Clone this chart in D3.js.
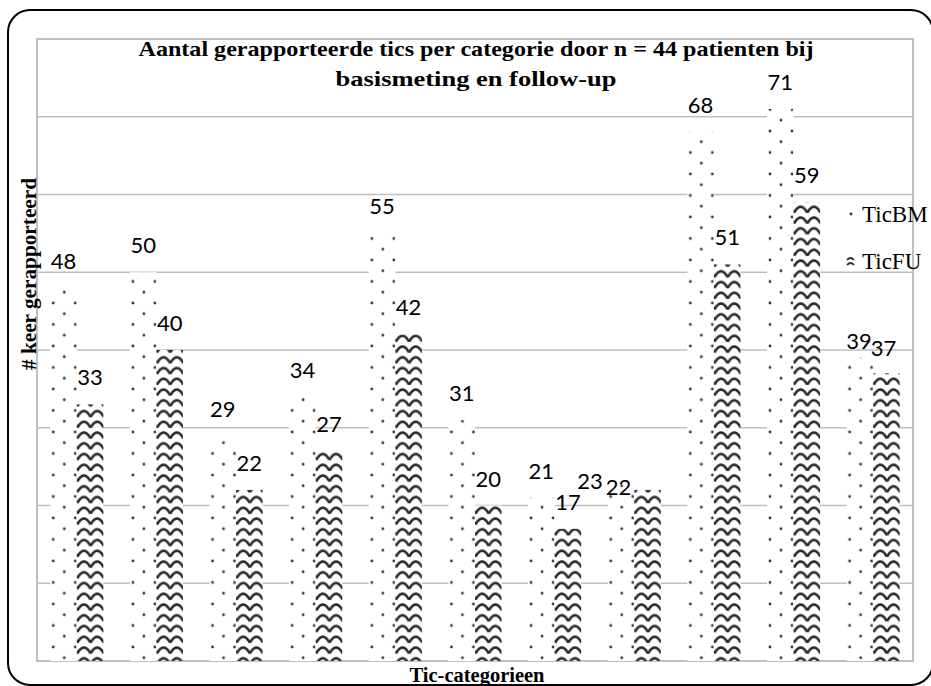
<!DOCTYPE html>
<html><head><meta charset="utf-8">
<script src="https://cdn.jsdelivr.net/npm/d3@7"></script>
<style>
html,body{margin:0;padding:0;background:#fff;}
svg{display:block;}
</style></head>
<body>
<svg id="chart" width="931" height="686"></svg>
<script>
const categories = ["C1","C2","C3","C4","C5","C6","C7","C8","C9","C10","C11"];
const seriesNames = ["TicBM","TicFU"];
const ticBM = [48,50,29,34,55,31,21,23,68,71,39];
const ticFU = [33,40,22,27,42,20,17,22,51,59,37];
const yTicks = [0,10,20,30,40,50,60,70,80];
const titleLines = ["Aantal gerapporteerde tics per categorie door n = 44 patienten bij","basismeting en follow-up"];
const yTitle = "# keer gerapporteerd";
const xTitle = "Tic-categorieen";

// manual label nudges (layout only): key "catIndex-series" -> [dx, dy]
const labelNudge = {"7-TicBM":[-31,26], "7-TicFU":[-29,24], "10-TicBM":[-1,10], "10-TicFU":[-3,2]};

const SERIF = "'Times New Roman', 'Liberation Serif', Tinos, serif";
const svg = d3.select("#chart");
const plot = {left:37, top:39, right:913, bottom:661};

// outer frame
svg.append("rect").attr("x",8).attr("y",10).attr("width",925).attr("height",675)
  .attr("rx",22).attr("ry",22).attr("fill","#fff").attr("stroke","#000").attr("stroke-width",2);

// patterns
const defs = svg.append("defs");
const pDot = defs.append("pattern").attr("id","pDots").attr("patternUnits","userSpaceOnUse")
  .attr("width",22).attr("height",21.5).attr("x",3).attr("y",2);
pDot.append("rect").attr("width",22).attr("height",21.5).attr("fill","#fff");
[[0,0],[22,0],[0,21.5],[22,21.5],[11,10.75]].forEach(([cx,cy])=>
  pDot.append("circle").attr("cx",cx).attr("cy",cy).attr("r",1.4).attr("fill","#333"));

const ww = 13.27, wh = 10.75;
const pWave = defs.append("pattern").attr("id","pWave").attr("patternUnits","userSpaceOnUse")
  .attr("width",ww).attr("height",wh).attr("x",0.5).attr("y",0);
pWave.append("rect").attr("width",ww).attr("height",wh).attr("fill","#fff");
pWave.append("path").attr("d",`M0,8.5 Q${ww/2},-3.5 ${ww},8.5`)
  .attr("fill","none").attr("stroke","#2a2a2a").attr("stroke-width",2.6);

const x0 = d3.scaleBand().domain(categories).range([plot.left, plot.right]);
const bw = x0.bandwidth()/3;
const x1 = d3.scaleBand().domain(seriesNames).range([0, 2*bw]);
const y = d3.scaleLinear().domain([0,80]).range([plot.bottom, plot.top]);

// gridlines
svg.append("g").selectAll("line").data(yTicks).join("line")
  .attr("x1",plot.left).attr("x2",plot.right)
  .attr("y1",d=>y(d)).attr("y2",d=>y(d))
  .attr("stroke","#bfbfbf").attr("stroke-width",1.5);

// plot border
svg.append("rect").attr("x",plot.left).attr("y",plot.top)
  .attr("width",plot.right-plot.left).attr("height",plot.bottom-plot.top)
  .attr("fill","none").attr("stroke","#bfbfbf").attr("stroke-width",2);

const data = categories.map((c,i)=>({c, i, vals:[{i, s:"TicBM",v:ticBM[i]},{i, s:"TicFU",v:ticFU[i]}]}));
const fills = {TicBM:"url(#pDots)", TicFU:"url(#pWave)"};

const groups = svg.append("g").selectAll("g").data(data).join("g")
  .attr("transform",d=>`translate(${x0(d.c)+bw/2},0)`);
groups.selectAll("rect").data(d=>d.vals).join("rect")
  .attr("x",d=>x1(d.s)).attr("y",d=>y(d.v))
  .attr("width",x1.bandwidth()).attr("height",d=>y(0)-y(d.v))
  .attr("fill",d=>fills[d.s]);

// value labels
const nudge = d => labelNudge[d.i+"-"+d.s] || [0,0];
groups.selectAll("text").data(d=>d.vals).join("text")
  .attr("x",d=>x1(d.s)+x1.bandwidth()/2+nudge(d)[0]).attr("y",d=>y(d.v)-19+nudge(d)[1])
  .attr("text-anchor","middle")
  .attr("font-family","Lato, 'Open Sans', sans-serif").attr("font-size",22)
  .attr("fill","#000").text(d=>d.v);

// title
svg.append("g").selectAll("text").data(titleLines).join("text")
  .attr("x",476).attr("y",(d,i)=>56+i*30)
  .attr("text-anchor","middle")
  .attr("font-family",SERIF).attr("font-weight","bold")
  .attr("font-size",21)
  .attr("textLength",(d,i)=>i===0?675:281).attr("lengthAdjust","spacingAndGlyphs")
  .text(d=>d);

// axis titles
svg.append("text").attr("transform","translate(36,274) rotate(-90)")
  .attr("text-anchor","middle")
  .attr("font-family",SERIF).attr("font-weight","bold")
  .attr("font-size",20).attr("textLength",192).attr("lengthAdjust","spacingAndGlyphs")
  .text(yTitle);
svg.append("text").attr("x",477).attr("y",682)
  .attr("text-anchor","middle")
  .attr("font-family",SERIF).attr("font-weight","bold")
  .attr("font-size",20).attr("textLength",135).attr("lengthAdjust","spacingAndGlyphs")
  .text(xTitle);

// legend
const leg = svg.append("g");
const legY = [214, 261];
leg.append("circle").attr("cx",851).attr("cy",legY[0]).attr("r",1.4).attr("fill","#333");
const fu = leg.append("g").attr("transform",`translate(847,${legY[1]-4})`);
fu.append("path").attr("d","M0,3 Q3.5,-1 7,3").attr("fill","none").attr("stroke","#333").attr("stroke-width",1.8);
fu.append("path").attr("d","M0,8 Q3.5,4 7,8").attr("fill","none").attr("stroke","#333").attr("stroke-width",1.8);
leg.selectAll("text").data(seriesNames).join("text")
  .attr("x",862).attr("y",(d,i)=>legY[i]+8)
  .attr("font-family",SERIF)
  .attr("font-size",23).attr("fill","#000").text(d=>d);
</script>
</body></html>
